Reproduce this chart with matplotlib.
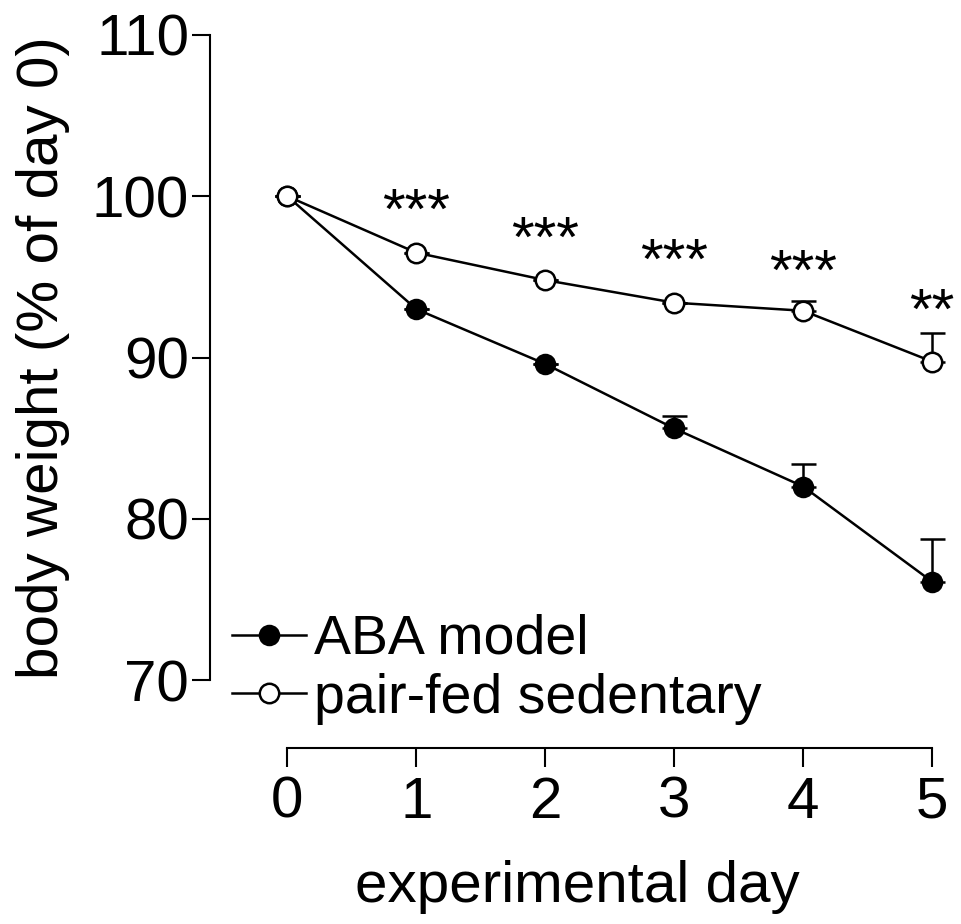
import matplotlib.pyplot as plt
import numpy as np

plt.rcParams['font.family'] = ['Liberation Sans', 'DejaVu Sans']

days = [0, 1, 2, 3, 4, 5]
aba_mean = [100.0, 93.0, 89.6, 85.6, 82.0, 76.1]
aba_sem = [0.0, 0.0, 0.0, 0.8, 1.4, 2.65]
pf_mean = [100.0, 96.5, 94.8, 93.4, 92.9, 89.75]
pf_sem = [0.0, 0.0, 0.0, 0.0, 0.6, 1.75]
stars = ['', '***', '***', '***', '***', '**']
star_y = [None, 98.9, 97.2, 95.8, 95.1, 92.7]

fig = plt.figure(figsize=(9.61, 9.24), dpi=100)
ax = fig.add_axes([210 / 961, 1 - 680 / 924, (945 - 210) / 961, (680 - 35) / 924])

fs = 42
lw = 1.8

# upper-only error bars
ax.errorbar(days, aba_mean, yerr=[np.zeros(6), aba_sem], fmt='none',
            ecolor='black', elinewidth=lw, capsize=9, capthick=lw, zorder=1)
ax.errorbar(days, pf_mean, yerr=[np.zeros(6), pf_sem], fmt='none',
            ecolor='black', elinewidth=lw, capsize=9, capthick=lw, zorder=1)

ax.plot(days, aba_mean, '-o', color='black', lw=lw, ms=14,
        mfc='black', mec='black', mew=1.5, label='ABA model', zorder=3)
ax.plot(days, pf_mean, '-o', color='black', lw=lw, ms=14,
        mfc='white', mec='black', mew=1.8, label='pair-fed sedentary', zorder=4)

for d, s, y in zip(days, stars, star_y):
    if s:
        ax.text(d, y, s, ha='center', va='center', fontsize=fs)

ax.set_xlim(-0.6, 5.1)
ax.set_ylim(70, 110)
ax.set_yticks([70, 80, 90, 100, 110])
ax.set_xticks(days)

ax.spines['top'].set_visible(False)
ax.spines['right'].set_visible(False)
ax.spines['left'].set_linewidth(1.5)
ax.spines['bottom'].set_linewidth(1.5)
ax.spines['left'].set_bounds(70, 110)
ax.spines['bottom'].set_bounds(0, 5)
ax.spines['bottom'].set_position(('outward', 49))

ax.tick_params(axis='y', direction='out', length=13, width=1.5, pad=2, labelsize=fs)
ax.tick_params(axis='x', direction='out', length=14, width=1.5, pad=6, labelsize=fs)

ax.set_xlabel('experimental day', fontsize=fs, labelpad=22)
ax.set_ylabel('body weight (% of day 0)', fontsize=fs, labelpad=16)

ax.legend(loc='upper left', bbox_to_anchor=(232 / 961, 1 - 614 / 924),
          bbox_transform=fig.transFigure, frameon=False, fontsize=40,
          handlelength=1.33, handletextpad=0.15, labelspacing=0.12,
          markerscale=1.0, borderaxespad=0, borderpad=0)

fig.savefig('out.png', dpi=100)
